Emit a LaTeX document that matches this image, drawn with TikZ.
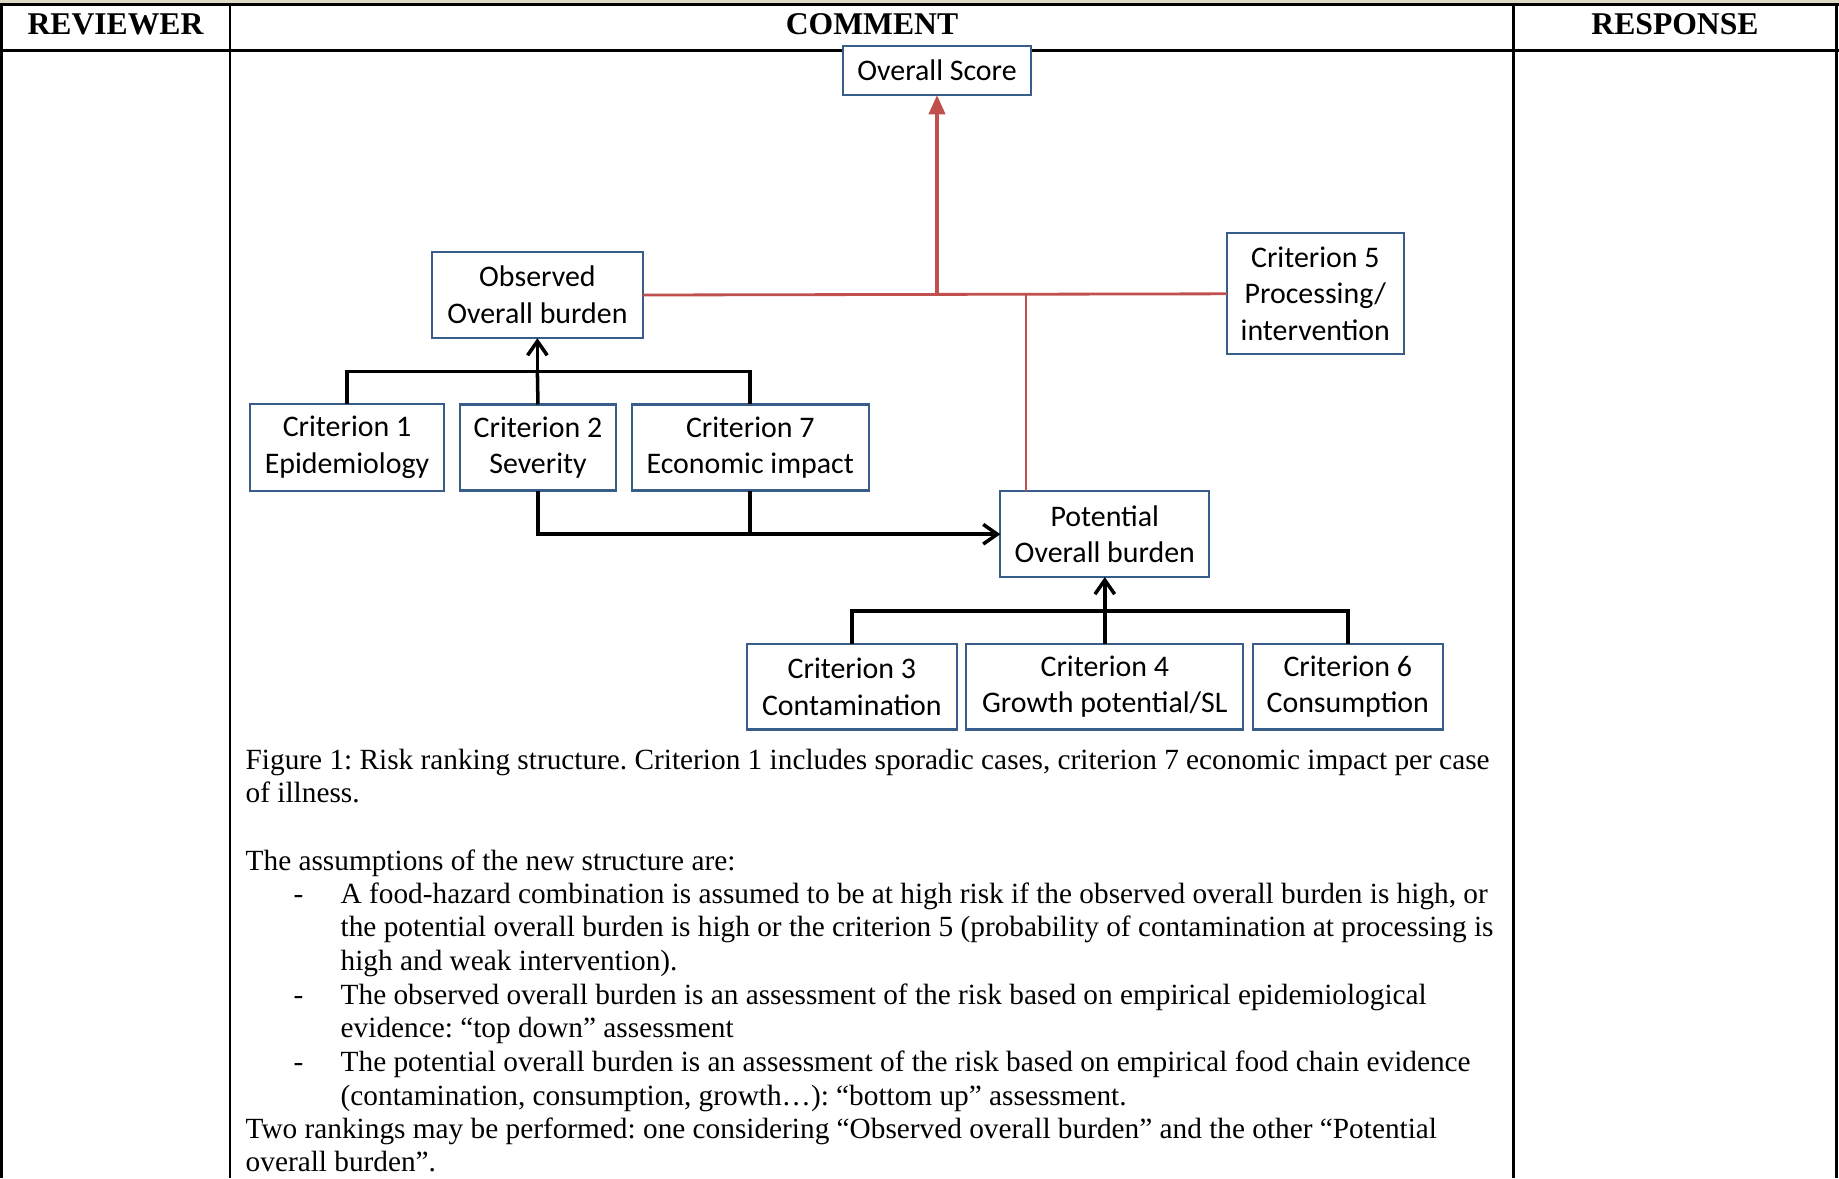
\documentclass[tikz,border=0pt]{standalone}
\usepackage{fontspec}
\setmainfont{Liberation Serif}
\newfontfamily\calibri{Carlito}
\usepackage{xcolor}
\usetikzlibrary{positioning,arrows.meta}
\definecolor{boxblue}{RGB}{56,93,138}
\definecolor{riskred}{RGB}{192,80,77}
\definecolor{tanband}{RGB}{221,217,195}
\frenchspacing

\begin{document}
\begin{tikzpicture}[x=0.01cm, y=-0.01cm,
  box/.style={rectangle, draw=boxblue, line width=0.6pt, fill=white, inner sep=0pt, outer sep=0pt,
              align=center, font=\calibri\fontsize{8.5}{10.4}\selectfont},
  arr/.style={-{Straight Barb[length=4pt,width=5.6pt]}, line width=1pt},
  link/.style={line width=1pt},
  redln/.style={draw=riskred, line width=0.8pt},
  redarr/.style={-{Triangle[length=5.5pt,width=4.5pt]}, draw=riskred, line width=1.2pt},
  head/.style={anchor=base, inner sep=0pt, font=\bfseries\fontsize{9}{11}\selectfont},
  txt/.style={anchor=base west, inner sep=0pt, font=\fontsize{8.33}{10}\selectfont},
  tabline/.style={line width=0.7pt}
]
\useasboundingbox (0,0) rectangle (1839,1178);
\fill[tanband] (0,0) rectangle (1839,4);

% table frame
\draw[tabline] (0,4.5) -- (1839,4.5);
\draw[tabline, line width=0.85pt] (0,50) -- (1839,50);
\draw[tabline] (1.3,4.5) -- (1.3,1178);
\draw[tabline] (230,4.5) -- (230,1178);
\draw[tabline] (1513.7,4.5) -- (1513.7,1178);
\draw[tabline] (1836.3,4.5) -- (1836.3,1178);

\node[head] (hrev) at (115.5,34) {REVIEWER};
\node[head] (hcom) at (872,34)   {COMMENT};
\node[head] (hres) at (1675,34)  {RESPONSE};

% boxes
\node[box, minimum width=1.88cm, minimum height=0.49cm] (score) at (937,70.4) {Overall Score};
\node[box, minimum width=2.107cm, minimum height=0.863cm] (obs) at (537.4,295) {Observed\\Overall burden};
\node[box, minimum width=1.77cm, minimum height=1.208cm] (crit5) at (1315.3,293.8) {Criterion 5\\Processing/\\intervention};

\node[box, minimum width=1.94cm, minimum height=0.87cm] (crit1) at (347,447.5) {Criterion 1\\Epidemiology};
\node[box, minimum width=1.567cm, minimum height=0.86cm, right=0.155cm of crit1] (crit2) {Criterion 2\\Severity};
\node[box, minimum width=2.37cm, minimum height=0.86cm, right=0.153cm of crit2] (crit7) {Criterion 7\\Economic impact};

\node[box, minimum width=2.088cm, minimum height=0.856cm] (pot) at (1104.8,534.2) {Potential\\Overall burden};
\node[box, minimum width=2.768cm, minimum height=0.856cm] (crit4) at (1104.8,686.7) {Criterion 4\\Growth potential/SL};
\node[box, minimum width=2.10cm, minimum height=0.856cm, left=0.094cm of crit4] (crit3) {Criterion 3\\Contamination};
\node[box, minimum width=1.90cm, minimum height=0.856cm, right=0.094cm of crit4] (crit6) {Criterion 6\\Consumption};

% red links
\coordinate (potin) at (1026,294.5);
\draw[redln] (obs.east) -- (crit5.west);
\draw[redarr] (obs.east -| score.south) -- (score.south);
\draw[redln] (potin) -- (potin |- pot.north);

% black links
\coordinate (obsbus) at (obs.south |- 0,371.7);
\coordinate (potbus) at (pot.south |- 0,611);
\draw[link] (crit1.north) |- (obsbus) -| (crit7.north);
\draw[link] (crit2.north) -- (obsbus);
\draw[arr] (obsbus) -- (obs.south);
\draw[arr] (crit2.south) |- (pot.west);
\draw[link] (crit7.south) -- (crit7.south |- pot.west);
\draw[link] (crit3.north) |- (potbus) -| (crit6.north);
\draw[link] (crit4.north) -- (potbus);
\draw[arr] (potbus) -- (pot.south);

% caption and notes
\node[txt] (cap1) at (245,769.3) {Figure 1: Risk ranking structure. Criterion 1 includes sporadic cases, criterion 7 economic impact per case};
\node[txt] (cap2) at (245,802.7) {of illness.};
\node[txt] (assm) at (245,870) {The assumptions of the new structure are:};
\node[txt] (dsha) at (293,903.3) {-};
\node[txt] (asa1) at (340,903.3) {A food-hazard combination is assumed to be at high risk if the observed overall burden is high, or};
\node[txt] (asa2) at (340,936.7) {the potential overall burden is high or the criterion 5 (probability of contamination at processing is};
\node[txt] (asa3) at (340,970.7) {high and weak intervention).};
\node[txt] (dshb) at (293,1004) {-};
\node[txt] (asb1) at (340,1004) {The observed overall burden is an assessment of the risk based on empirical epidemiological};
\node[txt] (asb2) at (340,1037.3) {evidence: “top down” assessment};
\node[txt] (dshc) at (293,1071.7) {-};
\node[txt] (asc1) at (340,1071.7) {The potential overall burden is an assessment of the risk based on empirical food chain evidence};
\node[txt] (asc2) at (340,1105) {(contamination, consumption, growth…): “bottom up” assessment.};
\node[txt] (two1) at (245,1138.3) {Two rankings may be performed: one considering “Observed overall burden” and the other “Potential};
\node[txt] (two2) at (245,1171.7) {overall burden”.};
\end{tikzpicture}
\end{document}
